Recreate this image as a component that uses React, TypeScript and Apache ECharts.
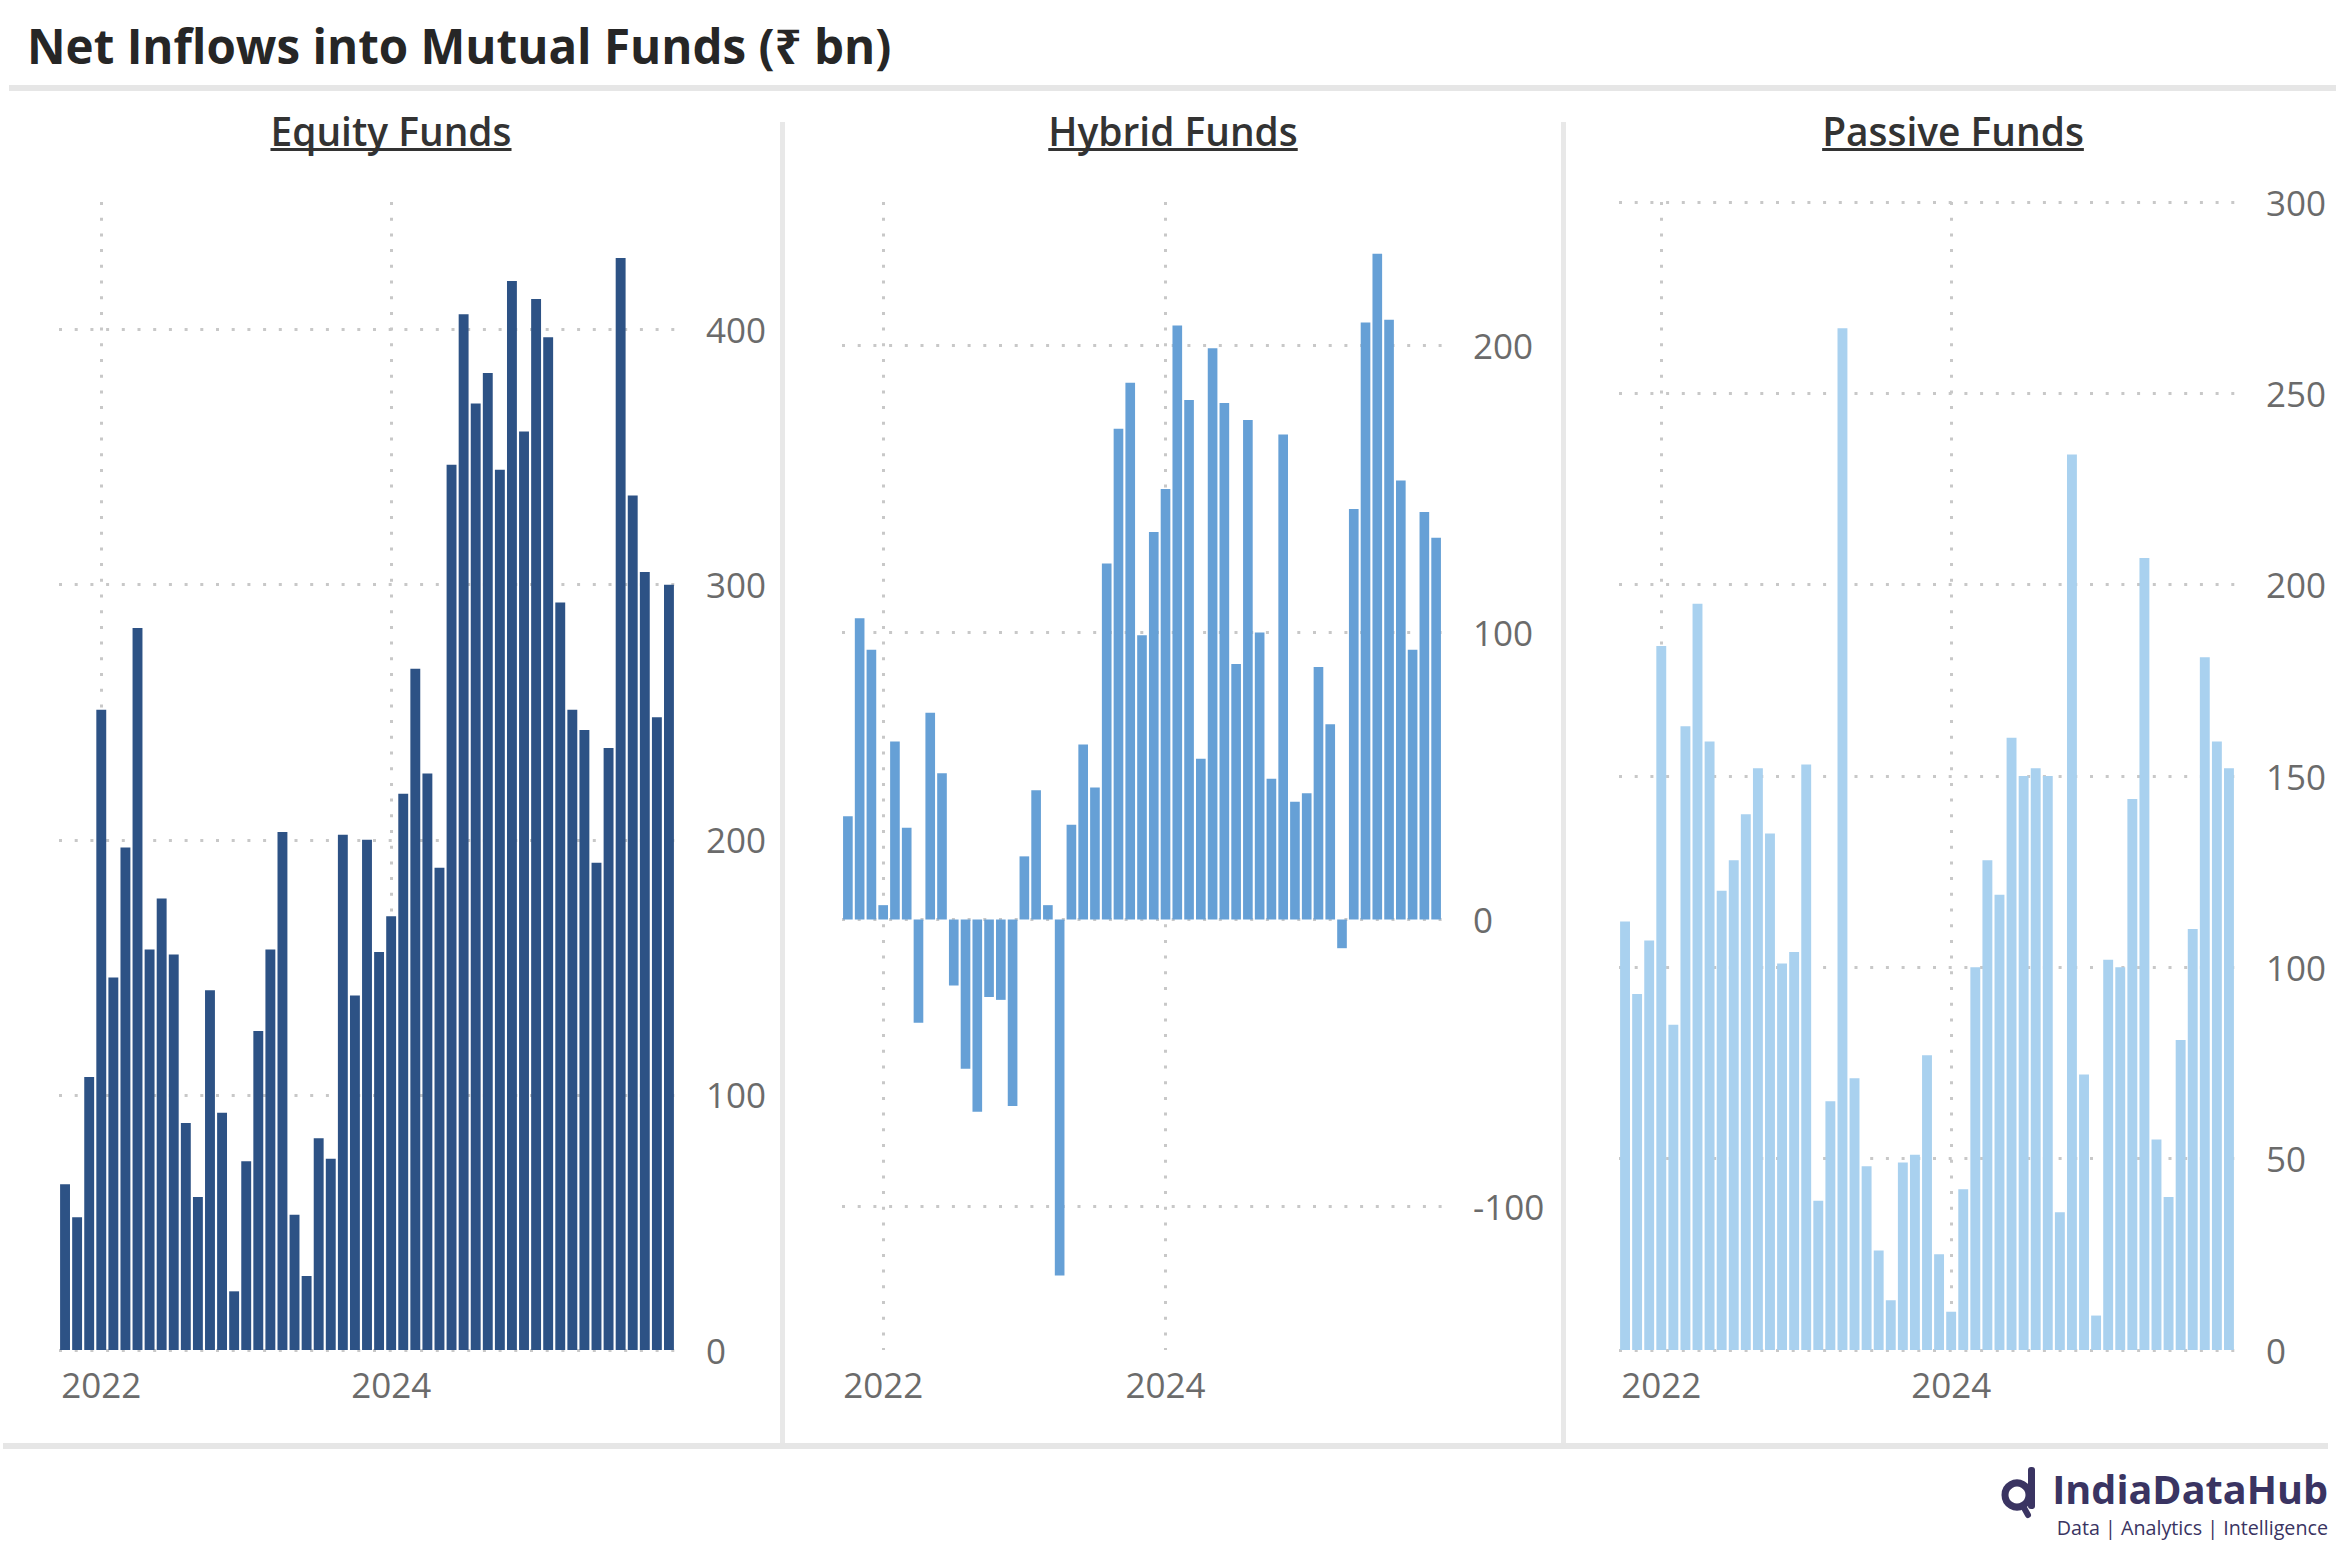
import React, { useEffect, useRef } from 'react';
import * as echarts from 'echarts';

// Monthly net inflows, Sep 2021 – Nov 2025 (₹ bn)
const firstMonth = '2021-09';
const equityFlows = [
  65, 52, 107, 251, 146, 197, 283, 157, 177, 155,
  89, 60, 141, 93, 23, 74, 125, 157, 203, 53,
  29, 83, 75, 202, 139, 200, 156, 170, 218, 267,
  226, 189, 347, 406, 371, 383, 345, 419, 360, 412,
  397, 293, 251, 243, 191, 236, 428, 335, 305, 248, 300,
];
const hybridFlows = [
  36, 105, 94, 5, 62, 32, -36, 72, 51, -23,
  -52, -67, -27, -28, -65, 22, 45, 5, -124, 33,
  61, 46, 124, 171, 187, 99, 135, 150, 207, 181,
  56, 199, 180, 89, 174, 100, 49, 169, 41, 44,
  88, 68, -10, 143, 208, 232, 209, 153, 94, 142, 133,
];
const passiveFlows = [
  112, 93, 107, 184, 85, 163, 195, 159, 120, 128,
  140, 152, 135, 101, 104, 153, 39, 65, 267, 71,
  48, 26, 13, 49, 51, 77, 25, 10, 42, 100,
  128, 119, 160, 150, 152, 150, 36, 234, 72, 9,
  102, 100, 144, 207, 55, 40, 81, 110, 181, 159, 152,
];
// year tick positions (index of the month-end closest to 1 Jan) and labels
const yearTickIndex = [3, 27];
const yearTickLabels = ['2022', '2024'];
const panelTitles = ['Equity Funds', 'Hybrid Funds', 'Passive Funds'];
const chartTitle = 'Net Inflows into Mutual Funds (₹ bn)';
const brandName = 'IndiaDataHub';
const brandTagline = 'Data | Analytics | Intelligence';

const yMin = [0, -150, 0];
const yMax = [450, 250, 300];
const yStep = [100, 100, 50];

const W = 2342;
const H = 1553;
const FONT = '"Open Sans", "Noto Sans", sans-serif';
const GRID_TOP = 202;
const GRID_H = 1148;
const gridLeft = [59, 842, 1619];
const gridWidth = [616, 600, 616];
const panelCenter = [391, 1173, 1953];
const barColors = ['#2d5285', '#66a0d6', '#a9d1ef'];
const LABEL_COLOR = '#6b6b6b';
const GRID_COLOR = '#c8c8c8';
const BRAND = '#3a3462';

function fitFont(text: string, weight: string, family: string, target: number, fallback: number) {
  try {
    const c = document.createElement('canvas');
    const ctx = c.getContext('2d');
    if (!ctx) return fallback;
    ctx.font = `${weight} 100px ${family}`;
    const w = ctx.measureText(text).width;
    if (!w) return fallback;
    return Math.round((100 * target) / w * 10) / 10;
  } catch (e) {
    return fallback;
  }
}
function measure(text: string, weight: string, size: number, family: string) {
  const c = document.createElement('canvas');
  const ctx = c.getContext('2d');
  if (!ctx) return text.length * size * 0.55;
  ctx.font = `${weight} ${size}px ${family}`;
  return ctx.measureText(text).width;
}

export default function App() {
  const ref = useRef<HTMLDivElement>(null);
  useEffect(() => {
    if (!ref.current) return;
    const chart = echarts.init(ref.current, undefined, { renderer: 'svg', width: W, height: H });
    const seriesData = [equityFlows, hybridFlows, passiveFlows];

    const titleSize = fitFont(chartTitle, 'bold', FONT, 865, 44);
    const panelSize = fitFont(panelTitles[0], '600', FONT, 241, 36);
    const brandSize = fitFont(brandName, 'bold', FONT, 276, 38);
    const tagSize = fitFont(brandTagline, 'normal', FONT, 272, 22);

    const dotted = { color: GRID_COLOR, width: 3, type: [3, 12.7] as number[] };

    const graphics: any[] = [
      {
        type: 'text', x: 27, y: 45,
        style: { text: chartTitle, fill: '#262626', font: `bold ${titleSize}px ${FONT}`, verticalAlign: 'middle' },
      },
      { type: 'rect', shape: { x: 9, y: 85, width: 2327, height: 6 }, style: { fill: '#e6e6e6' } },
      { type: 'rect', shape: { x: 780, y: 122, width: 5, height: 1324 }, style: { fill: '#e8e8e8' } },
      { type: 'rect', shape: { x: 1561, y: 122, width: 5, height: 1324 }, style: { fill: '#e8e8e8' } },
      { type: 'rect', shape: { x: 3, y: 1443, width: 2325, height: 6 }, style: { fill: '#e6e6e6' } },
      // brand
      {
        type: 'text', x: 2328, y: 1489,
        style: { text: brandName, fill: BRAND, font: `bold ${brandSize}px ${FONT}`, align: 'right', verticalAlign: 'middle', lineHeight: brandSize },
      },
      {
        type: 'text', x: 2328, y: 1527,
        style: { text: brandTagline, fill: BRAND, font: `normal ${tagSize}px ${FONT}`, align: 'right', verticalAlign: 'middle', lineHeight: tagSize },
      },
      { type: 'circle', shape: { cx: 2017, cy: 1495, r: 12 }, style: { fill: 'none', stroke: BRAND, lineWidth: 7 } },
      { type: 'rect', shape: { x: 2028, y: 1467, width: 7, height: 42, r: 3 }, style: { fill: BRAND } },
      { type: 'line', shape: { x1: 2023, y1: 1506, x2: 2028, y2: 1515 }, style: { stroke: BRAND, lineWidth: 6, lineCap: 'round' } },
    ];

    panelTitles.forEach((t, i) => {
      const tw = measure(t, '600', panelSize, FONT);
      graphics.push({
        type: 'text', x: panelCenter[i], y: 130,
        style: { text: t, fill: '#333333', font: `600 ${panelSize}px ${FONT}`, align: 'center', verticalAlign: 'middle' },
      });
      graphics.push({
        type: 'rect', shape: { x: panelCenter[i] - tw / 2, y: 148, width: tw, height: 3 }, style: { fill: '#333333' },
      });
    });

    const option: any = {
      animation: false,
      backgroundColor: '#ffffff',
      textStyle: { fontFamily: FONT },
      grid: gridLeft.map((l, i) => ({ left: l, top: GRID_TOP, width: gridWidth[i], height: GRID_H, containLabel: false })),
      xAxis: gridLeft.map((_, i) => ({
        type: 'value', gridIndex: i, min: -0.5, max: seriesData[i].length - 0.5,
        axisLine: { show: false },
        axisTick: { show: false, customValues: yearTickIndex },
        axisLabel: {
          customValues: yearTickIndex,
          formatter: (v: number) => {
            const k = yearTickIndex.indexOf(Math.round(v));
            return k >= 0 ? yearTickLabels[k] : '';
          },
          fontSize: 35, color: LABEL_COLOR, margin: 17, fontFamily: FONT,
        },
        splitLine: { show: true, lineStyle: dotted },
      })),
      yAxis: gridLeft.map((_, i) => ({
        type: 'value', gridIndex: i, position: 'right',
        min: yMin[i], max: yMax[i], minInterval: yStep[i], maxInterval: yStep[i],
        axisLine: { show: false }, axisTick: { show: false },
        axisLabel: {
          fontSize: 35, color: LABEL_COLOR, margin: 31, fontFamily: FONT,
          showMinLabel: yMin[i] % yStep[i] === 0, showMaxLabel: yMax[i] % yStep[i] === 0,
        },
        splitLine: {
          show: true, lineStyle: dotted,
          showMinLine: yMin[i] % yStep[i] === 0, showMaxLine: yMax[i] % yStep[i] === 0,
        },
      })),
      series: seriesData.map((vals, i) => ({
        type: 'bar', name: panelTitles[i], xAxisIndex: i, yAxisIndex: i,
        barWidth: '82%',
        itemStyle: { color: barColors[i] },
        data: vals.map((v, k) => [k, v]),
      })),
      graphic: graphics,
    };
    chart.setOption(option);
    return () => chart.dispose();
  }, []);
  return (
    <div
      ref={ref}
      data-first-month={firstMonth}
      style={{ position: 'fixed', left: 0, top: 0, width: W, height: H, background: '#fff' }}
    />
  );
}
